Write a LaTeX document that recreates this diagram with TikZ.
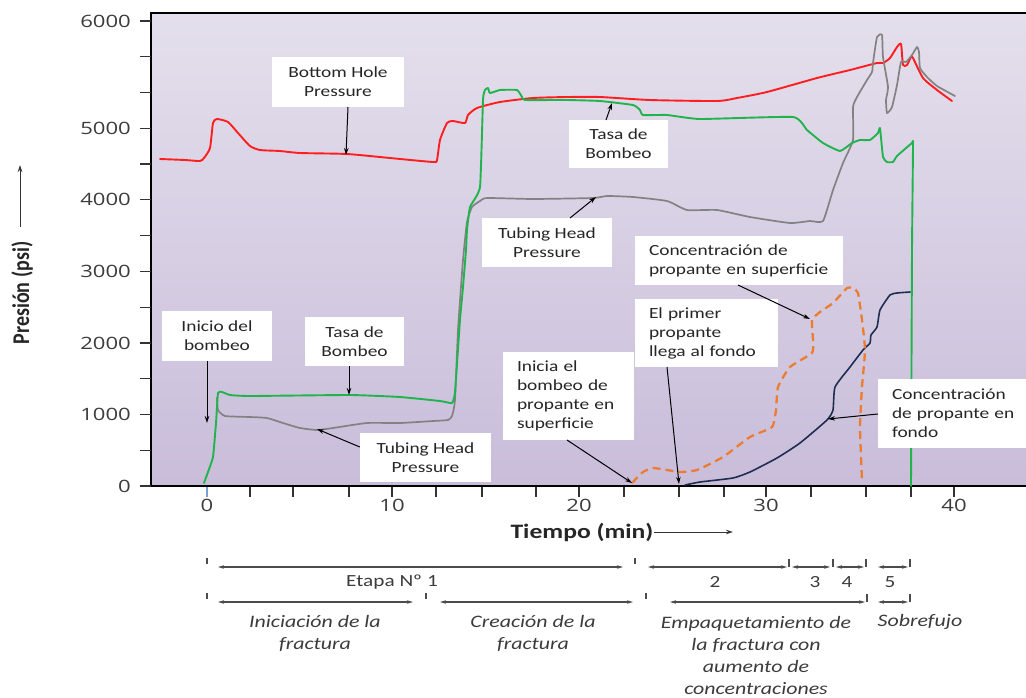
\documentclass[tikz,border=0pt]{standalone}
\usepackage{fontspec}
\setmainfont{Carlito}[FakeStretch=1.25]
\newfontfamily\numfont{Open Sans}[FakeStretch=1.3]
\newfontfamily\vfont{Carlito}
\usetikzlibrary{arrows.meta}
\definecolor{bgtop}{HTML}{E4DFEC}
\definecolor{bgbot}{HTML}{C9BDDA}
\definecolor{cred}{RGB}{255,30,30}
\definecolor{cgreen}{RGB}{34,180,76}
\definecolor{cgray}{RGB}{130,130,130}
\definecolor{cnavy}{RGB}{30,45,80}
\definecolor{corange}{RGB}{236,125,48}
\definecolor{ctext}{RGB}{60,60,60}
\definecolor{tickblue}{RGB}{120,160,210}
\tikzset{
  lbl/.style={fill=white, inner sep=0pt, text=black!85, font=\fontsize{15.5}{19}\selectfont},
  lbll/.style={lbl, align=left, inner xsep=14pt},
  ptr/.style={-{Stealth[length=7pt,width=4.5pt]}, line width=1pt, black},
  curve/.style={line width=1.9pt, line join=round, line cap=round},
  dim/.style={{Stealth[length=6pt,width=3.5pt]}-{Stealth[length=6pt,width=3.5pt]}, line width=1.2pt, black!70},
  tk/.style={line width=1.1pt, black!70},
  axnum/.style={text=ctext, font=\numfont\fontsize{17}{18}\selectfont, inner sep=0pt},
  stagelbl/.style={text=ctext, font=\fontsize{17}{20}\selectfont, inner sep=0pt},
  phase/.style={text=ctext, font=\itshape\fontsize{17.5}{22}\selectfont, align=center, inner sep=0pt},
}
\begin{document}
\begin{tikzpicture}[x=1pt,y=-1pt]
\useasboundingbox (0,0) rectangle (1026,697);
\fill[white] (0,0) rectangle (1026,697);
% plot background
\shade[top color=bgtop, bottom color=bgbot] (151,13) rectangle (1026,486);
% frame
\draw[line width=2pt, black] (1026,13) -- (151,13) -- (151,486);
% y ticks
\foreach \i in {0,...,13} \draw[line width=1.2pt, black!80] (140,{486-\i*35.77}) -- (151,{486-\i*35.77});
\foreach \v/\yy in {0/486,1000/414.5,2000/343,3000/271.3,4000/199.8,5000/128.2,6000/21} \node[axnum, anchor=east] (yl\v) at (131,\yy) {\v};
% x ticks
\foreach \xx in {250,293,349,392,436,482,536,579,624,679,724,766,811,866,911,954} \draw[line width=1.2pt, black!80] (\xx,486) -- (\xx,497);
\draw[line width=1.2pt, tickblue] (207,486) -- (207,497);
\foreach \v/\xx in {0/207,10/392,20/579,30/766,40/954} \node[axnum] (xl\v) at (\xx,505) {\v};
\draw[line width=2.6pt, black] (151,486) -- (1026,486);
% axis titles
\node[text=black!85, inner sep=0pt, rotate=90] (pres) at (22,293) {\scalebox{1}[1.2]{\vfont\bfseries\fontsize{20}{22}\selectfont Presión (psi)}};
\coordinate (ya1) at (20,227);
\coordinate (ya2) at (20,165);
\draw[ptr, black!80] (ya1) -- (ya2);
\node[text=black!85, inner sep=0pt, font=\bfseries\fontsize{20.5}{22}\selectfont] (tiempo) at (582,532) {Tiempo (min)};
\coordinate (tarr) at (733,532);
\draw[ptr, black!80] (tiempo.east) -- (tarr);

% curves
\draw[curve, cred] plot[smooth, tension=0.35] coordinates {(160,159) (185,160) (200,161) (204,158) (210,148) (213,123) (217,119) (228,122) (238,133) (250,146) (260,150) (280,151) (300,153) (347,154) (390,158) (433,162) (437,160) (440,140) (447,123) (453,121) (465,123) (468,115) (477,108) (500,102) (533,98) (567,97) (600,97) (650,100) (717,101) (737,98) (767,92) (817,78) (850,70) (877,63) (883,63) (890,58) (897,47) (901,44) (903,65) (907,65) (911,57) (913,58) (923,78) (937,90) (952,101)};
\draw[curve, cgray, line width=1.7pt] plot[smooth, tension=0.3] coordinates {(217,398) (218,410) (225,416) (250,417) (267,418) (283,423) (300,428) (317,430) (333,428) (367,423) (400,423) (433,421) (448,420) (452,416) (455,400) (458,330) (463,260) (467,222) (472,207) (480,201) (487,198) (533,199) (593,198) (607,196) (633,197) (667,201) (687,210) (717,210) (750,217) (790,223) (810,221) (823,221) (833,190) (843,163) (853,140) (853,107) (857,97) (867,80) (872,72) (873,63) (877,37) (882,35) (883,57) (888,87) (886,100) (887,113) (892,107) (897,85) (901,62) (906,62) (912,55) (917,47) (919,52) (920,68) (927,77) (937,86) (955,96)};
\draw[curve, cgreen] plot[smooth, tension=0.25] coordinates {(204,483) (208,472) (213,457) (216,423) (218,393) (222,392) (230,395) (250,396) (350,395) (400,397) (440,401) (452,403) (455,392) (460,320) (463,287) (466,250) (467,230) (470,207) (480,187) (483,100) (485,90) (488,88) (490,93) (500,90) (517,90) (522,97) (525,100) (567,100) (600,101) (633,105) (640,110) (643,115) (667,115) (700,119) (793,117) (807,130) (823,143) (840,151) (852,143) (860,140) (870,140) (878,133) (880,128) (883,157) (887,162) (893,162) (897,156) (912,143) (913,145) (912,250) (911,486)};
\draw[curve, cnavy, line width=1.6pt] plot[smooth, tension=0.3] coordinates {(685,485) (700,482) (733,478) (750,472) (777,458) (800,443) (827,420) (833,410) (835,387) (850,367) (863,350) (870,343) (871,335) (877,327) (880,310) (890,295) (897,293) (910,292)};
\draw[curve, corange, line width=2.3pt, line cap=butt, dash pattern=on 8pt off 5pt] plot[smooth, tension=0.3] coordinates {(632,483) (643,472) (653,468) (667,470) (680,472) (697,470) (723,457) (750,437) (772,427) (776,410) (778,387) (790,367) (812,353) (813,340) (812,320) (820,312) (833,303) (847,288) (853,288) (858,293) (862,320) (865,350) (862,387) (860,427) (862,480)};

% labels
\node[lbl, minimum width=132pt, minimum height=50pt, align=center] (bhp) at (338,82) {Bottom Hole\\Pressure};
\coordinate (bhpT) at (346,155);
\draw[ptr] (348,107) -- (bhpT);

\node[lbl, minimum width=99pt, minimum height=48pt, align=center] (tasa1) at (618.5,144) {Tasa de\\Bombeo};
\coordinate (tasa1T) at (612,103);
\draw[ptr] (606,120) -- (tasa1T);

\node[lbl, minimum width=130pt, minimum height=49pt, align=center] (thp1) at (547,242.5) {Tubing Head\\Pressure};
\coordinate (thp1T) at (596,197);
\draw[ptr] (570,218) -- (thp1T);

\node[lbl, minimum width=110pt, minimum height=50pt, align=center] (inicio) at (217,336) {Inicio del\\bombeo};
\coordinate (inicioT) at (207,423);
\draw[ptr] (207,361) -- (inicioT);

\node[lbl, minimum width=99pt, minimum height=49pt, align=center] (tasa2) at (354.5,341.5) {Tasa de\\Bombeo};
\coordinate (tasa2T) at (349,395);
\draw[ptr] (tasa2.south -| 349,0) -- (tasa2T);

\node[lbl, minimum width=131pt, minimum height=49pt, align=center] (thp2) at (425.5,457.5) {Tubing Head\\Pressure};
\coordinate (thp2T) at (317,429);
\draw[ptr] (thp2.west |- 0,447) -- (thp2T);

\node[lbll, minimum height=88pt, text width=103pt] (inicia) at (568.5,396) {Inicia el\\bombeo~de\\propante~en\\superficie};
\coordinate (iniciaT) at (632,483);
\draw[ptr] (567,440) -- (iniciaT);

\node[lbll, minimum height=68pt, text width=115pt] (primer) at (706.5,333) {El primer\\propante\\llega~al~fondo};
\coordinate (primerT) at (679,484);
\draw[ptr] (667,367) -- (primerT);

\node[lbll, minimum height=49pt, text width=180pt] (csup) at (739,260.5) {Concentración~de\\propante~en~superficie};
\coordinate (csupT) at (810,319);
\draw[ptr] (738,285) -- (csupT);

\node[lbll, minimum height=69pt, text width=120pt] (cfon) at (952,413.5) {Concentración\\de~propante~en\\fondo};
\coordinate (cfonT) at (828,419);
\draw[ptr] (cfon.west |- 0,414) -- (cfonT);

% stage row 1
\foreach \xx in {207,635} \draw[tk] (\xx,558) -- (\xx,564);
\foreach \xx in {789,833,866,910} \draw[tk] (\xx,559) -- (\xx,567);
\coordinate (a1s) at (218,567); \coordinate (a1e) at (623,567);
\coordinate (a2s) at (648,567); \coordinate (a2e) at (787,567);
\coordinate (a3s) at (792,567); \coordinate (a3e) at (830,567);
\coordinate (a4s) at (836,567); \coordinate (a4e) at (864,567);
\coordinate (a5s) at (878,567); \coordinate (a5e) at (908,567);
\draw[dim] (a1s) -- (a1e);
\draw[dim] (a2s) -- (a2e);
\draw[dim] (a3s) -- (a3e);
\draw[dim] (a4s) -- (a4e);
\draw[dim] (a5s) -- (a5e);
\node[stagelbl] (e1) at (392,582) {Etapa Nº 1};
\node[stagelbl] (e2) at (715,582) {2};
\node[stagelbl] (e3) at (815,582) {3};
\node[stagelbl] (e4) at (847,582) {4};
\node[stagelbl] (e5) at (890,582) {5};

% stage row 2
\foreach \xx in {207,426,646} \draw[tk] (\xx,593) -- (\xx,599);
\foreach \xx in {867,910} \draw[tk] (\xx,594) -- (\xx,602);
\coordinate (b1s) at (218,602); \coordinate (b1e) at (413,602);
\coordinate (b2s) at (440,602); \coordinate (b2e) at (633,602);
\coordinate (b3s) at (670,602); \coordinate (b3e) at (865,602);
\coordinate (b4s) at (878,602); \coordinate (b4e) at (908,602);
\draw[dim] (b1s) -- (b1e);
\draw[dim] (b2s) -- (b2e);
\draw[dim] (b3s) -- (b3e);
\draw[dim] (b4s) -- (b4e);
\node[phase] (p1) at (315,633) {Iniciación de la\\fractura};
\node[phase] (p2) at (533,633) {Creación de la\\fractura};
\node[phase] (p3) at (756,655) {Empaquetamiento de\\la fractura con\\aumento de\\concentraciones};
\node[phase] (p4) at (920,622) {Sobrefujo};
\end{tikzpicture}
\end{document}
